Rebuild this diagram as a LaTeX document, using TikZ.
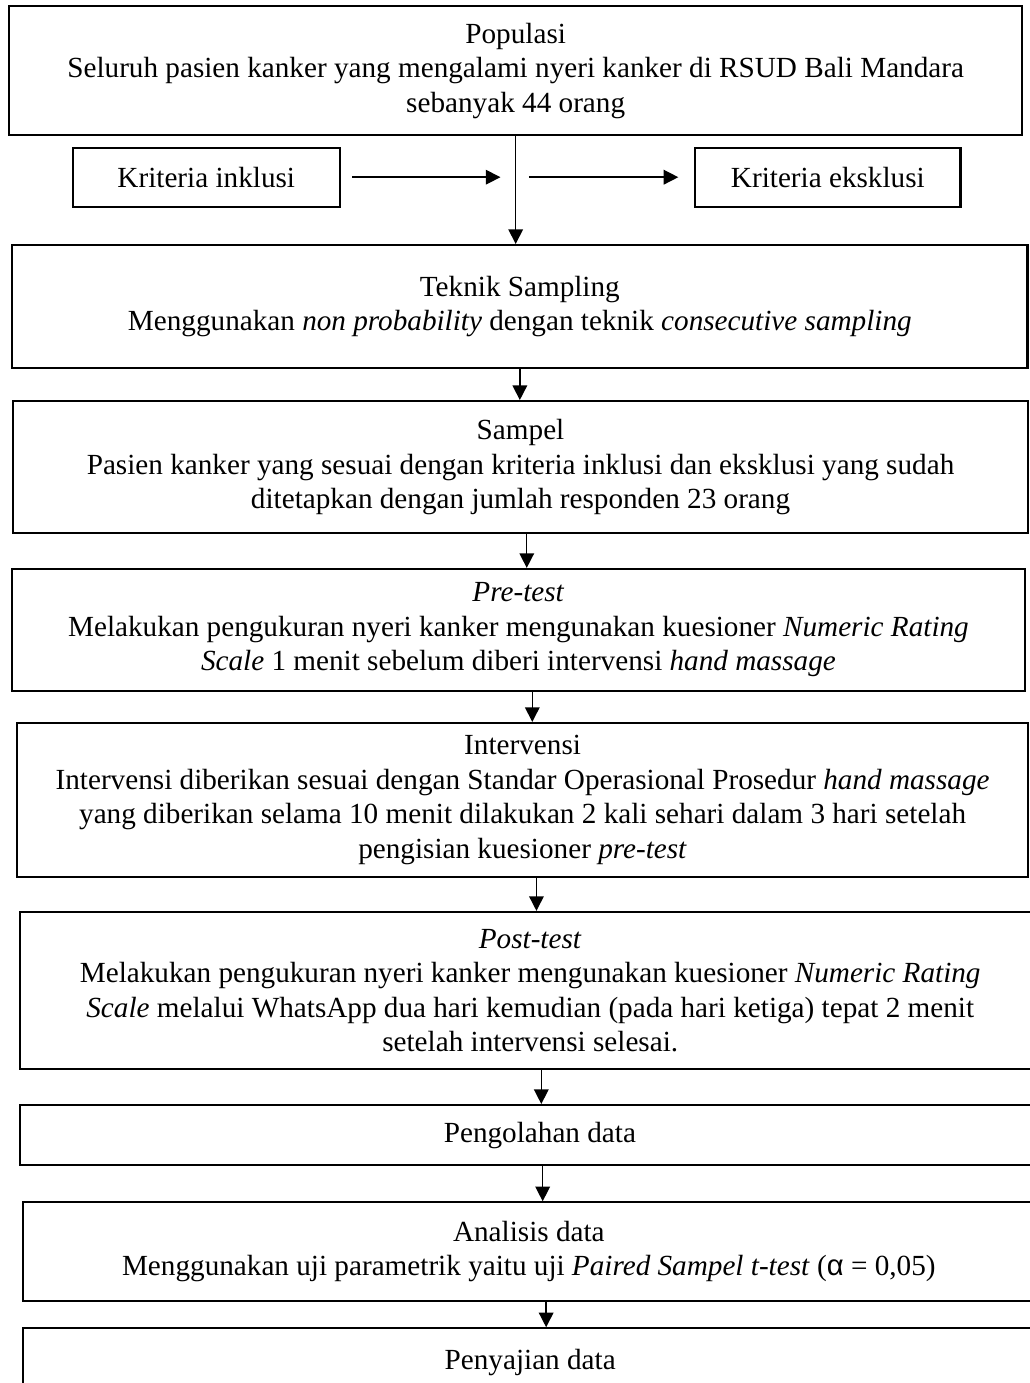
\documentclass[tikz,border=0pt]{standalone}
\usepackage{fontspec}
\setmainfont{Liberation Serif}
\newfontfamily\alphafont{Liberation Sans}
\usetikzlibrary{arrows.meta}
\begin{document}
\fontsize{12}{14.2}\selectfont
\begin{tikzpicture}[
    box/.style={draw, line width=0.9pt, align=center, inner sep=0pt,
        font=\fontsize{12}{14.2}\selectfont},
    >={Triangle[length=6pt,width=6pt]}
]
\useasboundingbox (0,0) rectangle (14.87,-19.98);
\node[box, minimum width=14.64cm, minimum height=1.86cm] (pop) at (7.45,-1.02)
    {Populasi \\ Seluruh pasien kanker yang mengalami nyeri kanker di {\large RSUD} Bali Mandara \\ sebanyak 44 orang};
\node[box, minimum width=3.86cm, minimum height=0.85cm] (inkl) at (2.98,-2.56) {Kriteria inklusi};
\node[box, minimum width=3.83cm, minimum height=0.85cm] (eks) at (11.96,-2.56) {Kriteria eksklusi};
\node[box, minimum width=14.67cm, minimum height=1.78cm] (teknik) at (7.51,-4.43)
    {Teknik Sampling \\ Menggunakan \textit{non probability} dengan teknik \textit{consecutive sampling}};
\node[box, minimum width=14.67cm, minimum height=1.91cm] (sampel) at (7.52,-6.75)
    {Sampel \\ Pasien kanker yang sesuai dengan kriteria inklusi dan eksklusi yang sudah \\ ditetapkan dengan jumlah responden 23 orang};
\node[box, minimum width=14.64cm, minimum height=1.76cm] (pre) at (7.49,-9.10)
    {\textit{Pre-test} \\ Melakukan pengukuran nyeri kanker mengunakan kuesioner \textit{Numeric Rating} \\ \textit{Scale} 1 menit sebelum diberi intervensi \textit{hand massage}};
\node[box, minimum width=14.61cm, minimum height=2.23cm] (interv) at (7.55,-11.56)
    {Intervensi \\ Intervensi diberikan sesuai dengan Standar Operasional Prosedur \textit{hand massage} \\ yang diberikan selama 10 menit dilakukan 2 kali sehari dalam 3 hari setelah \\ pengisian kuesioner \textit{pre-test}};
\node[box, minimum width=14.74cm, minimum height=2.27cm] (post) at (7.66,-14.31)
    {\textit{Post-test} \\ Melakukan pengukuran nyeri kanker mengunakan kuesioner \textit{Numeric Rating} \\ \textit{Scale} melalui WhatsApp dua hari kemudian (pada hari ketiga) tepat 2 menit \\ setelah intervensi selesai.};
\node[box, minimum width=15.03cm, minimum height=0.87cm] (olah) at (7.80,-16.40) {Pengolahan data};
\node[box, minimum width=14.62cm, minimum height=1.42cm] (analisis) at (7.64,-18.08)
    {Analisis data \\ Menggunakan uji parametrik yaitu uji {\large\textit{Paired Sampel t-test} ({\alphafont α} = 0,05)}};
\node[box, minimum width=14.65cm, minimum height=0.98cm] (saji) at (7.66,-19.68) {Penyajian data};
% kriteria
\coordinate (joinL) at (7.23,-2.56);
\coordinate (joinR) at (7.64,-2.56);
\draw[->, semithick] ([xshift=1.6mm]inkl.east) -- (joinL);
\draw[->, semithick] (joinR) -- ([xshift=-2.3mm]eks.west);
% alur
\draw[->, semithick] (pop.south) -- (pop.south |- teknik.north);
\draw[->, semithick] (teknik.south) -- (teknik.south |- sampel.north);
\draw[->, semithick] ([xshift=0.9mm]sampel.south) -- ([xshift=0.9mm]sampel.south |- pre.north);
\draw[->, semithick] ([xshift=2mm]pre.south) -- ([xshift=2mm]pre.south |- interv.north);
\draw[->, semithick] ([xshift=2mm]interv.south) -- ([xshift=2mm]interv.south |- post.north);
\draw[->, semithick] ([xshift=1.6mm]post.south) -- ([xshift=1.6mm]post.south |- olah.north);
\draw[->, semithick] ([xshift=0.4mm]olah.south) -- ([xshift=0.4mm]olah.south |- analisis.north);
\draw[->, semithick] ([xshift=2.5mm]analisis.south) -- ([xshift=2.5mm]analisis.south |- saji.north);
\end{tikzpicture}
\end{document}
